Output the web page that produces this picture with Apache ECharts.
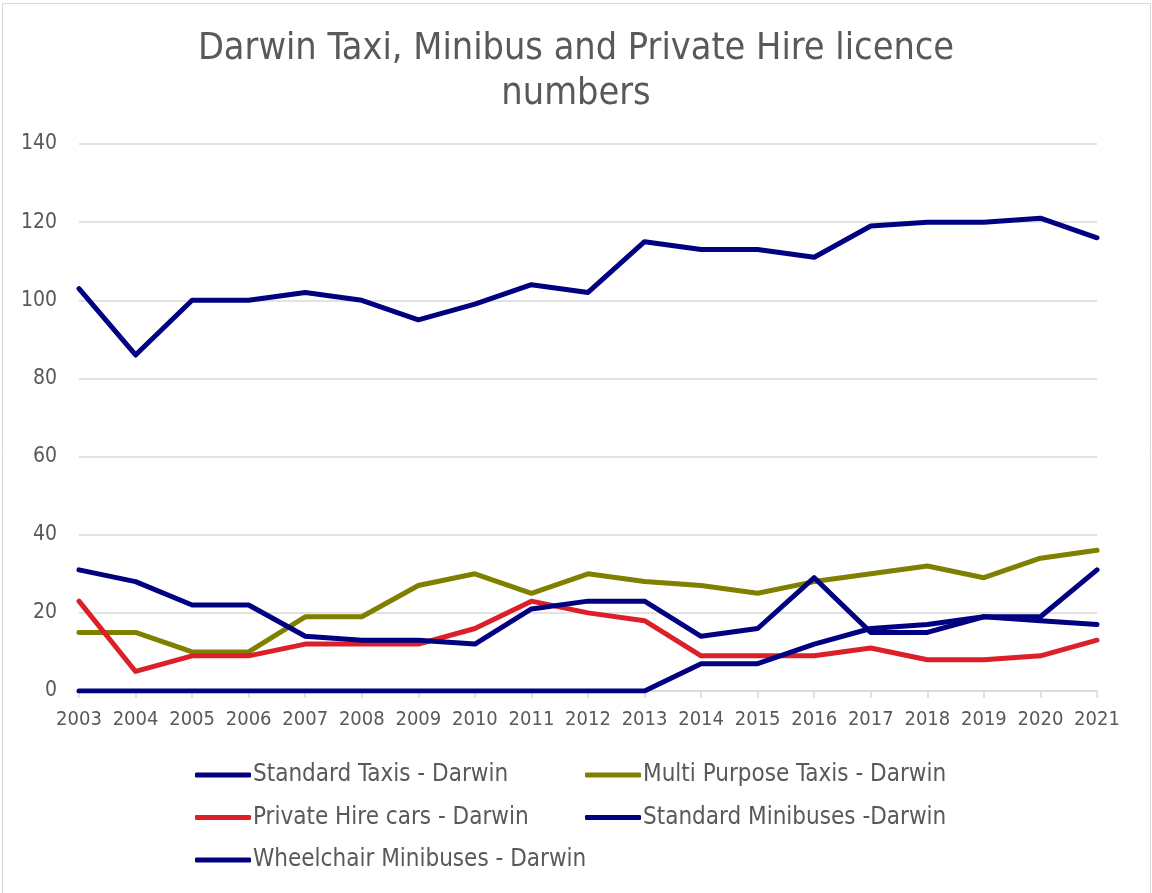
<!DOCTYPE html>
<html lang="en">

<head>
    <meta charset="UTF-8">
    <title>Darwin licence numbers</title>
    <script src="https://cdn.jsdelivr.net/npm/echarts/dist/echarts.min.js"></script>
    <style>
        html, body { margin: 0; padding: 0; background: #fff; }
    </style>
</head>

<body>
    <div id="chart" style="width: 1152px; height: 893px;"></div>
    <script>
        // data
        const years = ['2003', '2004', '2005', '2006', '2007', '2008', '2009', '2010', '2011', '2012',
            '2013', '2014', '2015', '2016', '2017', '2018', '2019', '2020', '2021'];
        const standardTaxis = [103, 86, 100, 100, 102, 100, 95, 99, 104, 102, 115, 113, 113, 111, 119, 120, 120, 121, 116];
        const multiPurposeTaxis = [15, 15, 10, 10, 19, 19, 27, 30, 25, 30, 28, 27, 25, 28, 30, 32, 29, 34, 36];
        const privateHireCars = [23, 5, 9, 9, 12, 12, 12, 16, 23, 20, 18, 9, 9, 9, 11, 8, 8, 9, 13];
        const standardMinibuses = [31, 28, 22, 22, 14, 13, 13, 12, 21, 23, 23, 14, 16, 29, 15, 15, 19, 19, 31];
        const wheelchairMinibuses = [0, 0, 0, 0, 0, 0, 0, 0, 0, 0, 0, 7, 7, 12, 16, 17, 19, 18, 17];

        const names = ['Standard Taxis - Darwin', 'Multi Purpose Taxis - Darwin', 'Private Hire cars - Darwin',
            'Standard Minibuses -Darwin', 'Wheelchair Minibuses - Darwin'];
        const colors = ['#000080', '#808000', '#DC2029', '#000080', '#000080'];
        const values = [standardTaxis, multiPurposeTaxis, privateHireCars, standardMinibuses, wheelchairMinibuses];

        const font = '"DejaVu Sans Condensed", "DejaVu Sans", sans-serif';
        const grey = '#595959';

        const chart = echarts.init(document.getElementById('chart'));

        // legend: thick line icons, two columns
        const legendBase = {
            orient: 'vertical',
            icon: 'roundRect',
            itemWidth: 56,
            itemHeight: 5,
            itemGap: 18.5,
            textStyle: { fontFamily: font, fontSize: 24, lineHeight: 24, color: grey, padding: [0, 0, 0, -3] }
        };

        chart.setOption({
            animation: false,
            textStyle: { fontFamily: font },
            title: {
                text: 'Darwin Taxi, Minibus and Private Hire licence\nnumbers',
                left: 'center',
                top: 22,
                textStyle: { fontFamily: font, fontSize: 37.5, fontWeight: 'normal', color: grey, lineHeight: 45 }
            },
            graphic: [{
                type: 'rect',
                shape: { x: 2.5, y: 3.5, width: 1148, height: 905 },
                style: { fill: 'none', stroke: '#d9d9d9', lineWidth: 1 },
                silent: true
            }],
            legend: [
                Object.assign({}, legendBase, {
                    left: 190, top: 758,
                    data: [names[0], names[2], names[4]]
                }),
                Object.assign({}, legendBase, {
                    left: 580, top: 758,
                    data: [names[1], names[3]]
                })
            ],
            grid: { left: 79, right: 55, top: 144, bottom: 202, containLabel: false },
            xAxis: {
                type: 'category',
                data: years,
                boundaryGap: false,
                axisLine: { lineStyle: { color: '#d9d9d9', width: 1.5 } },
                axisTick: { show: true, alignWithLabel: true, length: 7, lineStyle: { color: '#d9d9d9', width: 1.5 } },
                axisLabel: { color: grey, fontFamily: font, fontSize: 20, margin: 19, interval: 0 },
                splitLine: { show: false }
            },
            yAxis: {
                type: 'value',
                min: 0,
                max: 140,
                interval: 20,
                axisLine: { show: false },
                axisTick: { show: false },
                axisLabel: { color: grey, fontFamily: font, fontSize: 21, margin: 22 },
                splitLine: { lineStyle: { color: '#d9d9d9', width: 1.5 } }
            },
            series: names.map((n, i) => ({
                name: n,
                type: 'line',
                data: values[i],
                symbol: 'none',
                color: colors[i],
                lineStyle: { color: colors[i], width: 5, cap: 'round', join: 'round' }
            }))
        });
    </script>
</body>

</html>
